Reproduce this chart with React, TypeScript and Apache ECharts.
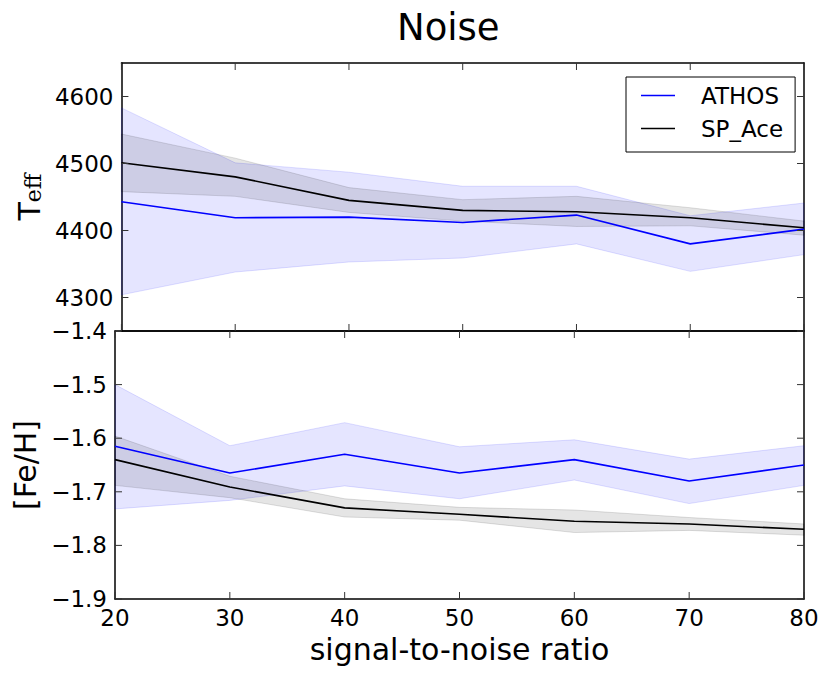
import React, { useEffect, useRef } from 'react';
import * as echarts from 'echarts';

const snr = [20, 30, 40, 50, 60, 70, 80];

const athosTeff = [4443, 4419, 4420, 4412, 4423, 4380, 4402];
const athosTeffLo = [4304, 4338, 4353, 4359, 4380, 4339, 4364];
const athosTeffHi = [4583, 4501, 4487, 4466, 4466, 4422, 4441];
const spTeff = [4501, 4480, 4445, 4430, 4428, 4419, 4404];
const spTeffLo = [4458, 4451, 4427, 4414, 4406, 4407, 4393];
const spTeffHi = [4544, 4508, 4464, 4446, 4451, 4434, 4414];

const athosFeh = [-1.615, -1.665, -1.63, -1.665, -1.64, -1.68, -1.65];
const athosFehLo = [-1.732, -1.716, -1.689, -1.713, -1.678, -1.722, -1.688];
const athosFehHi = [-1.5, -1.614, -1.571, -1.616, -1.603, -1.639, -1.614];
const spFeh = [-1.64, -1.691, -1.73, -1.742, -1.755, -1.76, -1.77];
const spFehLo = [-1.688, -1.711, -1.747, -1.753, -1.776, -1.772, -1.781];
const spFehHi = [-1.596, -1.671, -1.713, -1.729, -1.734, -1.748, -1.76];

const xTicks = [20, 30, 40, 50, 60, 70, 80];
const teffTicks = [4300, 4400, 4500, 4600];
const fehTicks = [-1.9, -1.8, -1.7, -1.6, -1.5, -1.4];

const FONT = 'DejaVu Sans';
const BLUE = '#0000ff';
const BLACK = '#000000';
const TICK_LEN = 7;

function pairs(ys: number[]) {
  return snr.map((x, i) => [x, ys[i]]);
}

function band(lo: number[], hi: number[], edge: string, fill: string, xi: number, yi: number) {
  return {
    type: 'custom', xAxisIndex: xi, yAxisIndex: yi, silent: true, z: 1,
    data: snr.map((x, i) => [x, lo[i], hi[i]]),
    encode: { x: 0, y: [1, 2] },
    renderItem: (params: any, api: any) => {
      if (params.dataIndex !== 0) return null;
      const upper = snr.map((x, i) => api.coord([x, hi[i]]));
      const lower = snr.map((x, i) => api.coord([x, lo[i]])).reverse();
      return {
        type: 'polygon',
        shape: { points: upper.concat(lower) },
        style: { fill, stroke: edge, lineWidth: 1 },
      };
    },
  };
}

function mainLine(name: string, ys: number[], color: string, xi: number, yi: number) {
  return {
    type: 'line', name, xAxisIndex: xi, yAxisIndex: yi, data: pairs(ys), symbol: 'none',
    lineStyle: { color, width: 1.6 }, itemStyle: { color }, z: 3,
  };
}

const tickStyle = { stroke: '#333', lineWidth: 1 };

// x tick marks on top and bottom edges of a grid, positioned through the x scale
function xTickMarks(values: number[], yRef: number, xi: number, yi: number) {
  return {
    type: 'custom', xAxisIndex: xi, yAxisIndex: yi, silent: true, z: 5, clip: false,
    data: values.map((v) => [v, yRef]),
    encode: { x: 0, y: 1 },
    renderItem: (params: any, api: any) => {
      const cs = params.coordSys;
      const px = api.coord([api.value(0), api.value(1)])[0];
      return {
        type: 'group',
        children: [
          { type: 'line', shape: { x1: px, y1: cs.y, x2: px, y2: cs.y + TICK_LEN }, style: tickStyle },
          { type: 'line', shape: { x1: px, y1: cs.y + cs.height, x2: px, y2: cs.y + cs.height - TICK_LEN }, style: tickStyle },
        ],
      };
    },
  };
}

// y tick marks on left and right edges of a grid, positioned through the y scale
function yTickMarks(values: number[], xRef: number, xi: number, yi: number) {
  return {
    type: 'custom', xAxisIndex: xi, yAxisIndex: yi, silent: true, z: 5, clip: false,
    data: values.map((v) => [xRef, v]),
    encode: { x: 0, y: 1 },
    renderItem: (params: any, api: any) => {
      const cs = params.coordSys;
      const py = api.coord([api.value(0), api.value(1)])[1];
      return {
        type: 'group',
        children: [
          { type: 'line', shape: { x1: cs.x, y1: py, x2: cs.x + TICK_LEN, y2: py }, style: tickStyle },
          { type: 'line', shape: { x1: cs.x + cs.width, y1: py, x2: cs.x + cs.width - TICK_LEN, y2: py }, style: tickStyle },
        ],
      };
    },
  };
}

const fmtMinus = (v: number) => (v < 0 ? '\u2212' : '') + Math.abs(v).toFixed(1);

export default function App() {
  const ref = useRef<HTMLDivElement>(null);
  useEffect(() => {
    document.body.style.margin = '0';
    const chart = echarts.init(ref.current as HTMLDivElement, null, { renderer: 'svg' });
    const mkLine = () => ({ show: true, onZero: false, lineStyle: { color: '#000', width: 1.5 } });
    const xAxisFor = (gridIndex: number, position: string, showLabel: boolean) => ({
      type: 'value', gridIndex, position, min: 20, max: 80, interval: 10,
      axisLine: mkLine(), axisTick: { show: false }, splitLine: { show: false },
      axisLabel: { show: showLabel, fontSize: 23, color: '#000', margin: 7, fontFamily: FONT },
      ...(showLabel ? {
        name: 'signal-to-noise ratio', nameLocation: 'middle', nameGap: 35,
        nameTextStyle: { fontSize: 30, color: '#000', fontFamily: FONT },
      } : {}),
    });
    const option: any = {
      animation: false,
      textStyle: { fontFamily: FONT },
      title: {
        text: 'Noise', left: 397, top: 9, padding: 0,
        textStyle: { fontSize: 37, fontWeight: 'normal', color: '#000', fontFamily: FONT },
      },
      legend: {
        left: 626, top: 77, orient: 'vertical',
        data: [{ name: 'ATHOS', icon: 'rect' }, { name: 'SP_Ace', icon: 'rect' }],
        borderColor: '#000', borderWidth: 1, borderRadius: 0,
        padding: [7, 12, 12, 15], itemGap: 10, itemWidth: 34, itemHeight: 1.6,
        backgroundColor: '#fff',
        textStyle: { fontSize: 23, color: '#000', fontFamily: FONT, padding: [0, 0, 0, 21] },
        selectedMode: false,
      },
      grid: [
        { left: 115, right: 26, top: 63, height: 268 },
        { left: 115, right: 26, top: 331, height: 268 },
      ],
      xAxis: [
        xAxisFor(0, 'bottom', false),
        xAxisFor(0, 'top', false),
        xAxisFor(1, 'bottom', true),
        xAxisFor(1, 'top', false),
      ],
      yAxis: [
        {
          type: 'value', gridIndex: 0, position: 'left', min: 4250, max: 4650,
          axisLine: mkLine(), splitLine: { show: false }, axisTick: { show: false },
          axisLabel: { fontSize: 23, color: '#000', margin: 8, fontFamily: FONT, customValues: teffTicks, formatter: (v: number) => String(v) },
          name: '{t|T}{s|eff}', nameLocation: 'middle', nameGap: 72, nameRotate: 90,
          nameTextStyle: {
            color: '#000',
            rich: {
              t: { fontSize: 30, lineHeight: 30, fontFamily: FONT, color: '#000', verticalAlign: 'top' },
              s: { fontSize: 22, lineHeight: 22, fontFamily: 'DejaVu Serif', color: '#000', verticalAlign: 'bottom', padding: [14, 0, 0, 0] },
            },
          },
        },
        {
          type: 'value', gridIndex: 0, position: 'right', min: 4250, max: 4650,
          axisLine: mkLine(), splitLine: { show: false }, axisTick: { show: false },
          axisLabel: { show: false },
        },
        {
          type: 'value', gridIndex: 1, position: 'left', min: -1.9, max: -1.4, interval: 0.1,
          axisLine: mkLine(), axisTick: { show: false }, splitLine: { show: false },
          axisLabel: { fontSize: 23, color: '#000', margin: 8, fontFamily: FONT, formatter: fmtMinus },
          name: '[Fe/H]', nameLocation: 'middle', nameGap: 72, nameRotate: 90,
          nameTextStyle: { fontSize: 30, color: '#000', fontFamily: FONT },
        },
        {
          type: 'value', gridIndex: 1, position: 'right', min: -1.9, max: -1.4, interval: 0.1,
          axisLine: mkLine(), axisTick: { show: false }, splitLine: { show: false },
          axisLabel: { show: false },
        },
      ],
      series: [
        band(athosTeffLo, athosTeffHi, 'rgba(0,0,255,0.12)', 'rgba(0,0,255,0.1)', 0, 0),
        band(spTeffLo, spTeffHi, 'rgba(0,0,0,0.12)', 'rgba(0,0,0,0.1)', 0, 0),
        mainLine('ATHOS', athosTeff, BLUE, 0, 0),
        mainLine('SP_Ace', spTeff, BLACK, 0, 0),
        band(athosFehLo, athosFehHi, 'rgba(0,0,255,0.12)', 'rgba(0,0,255,0.1)', 2, 2),
        band(spFehLo, spFehHi, 'rgba(0,0,0,0.12)', 'rgba(0,0,0,0.1)', 2, 2),
        mainLine('ATHOS', athosFeh, BLUE, 2, 2),
        mainLine('SP_Ace', spFeh, BLACK, 2, 2),
        xTickMarks(xTicks, 4450, 0, 0),
        yTickMarks(teffTicks, 50, 0, 0),
        xTickMarks(xTicks, -1.65, 2, 2),
        yTickMarks(fehTicks, 50, 2, 2),
      ],
    };
    chart.setOption(option);
    return () => chart.dispose();
  }, []);
  return <div ref={ref} style={{ width: 830, height: 677 }} />;
}
